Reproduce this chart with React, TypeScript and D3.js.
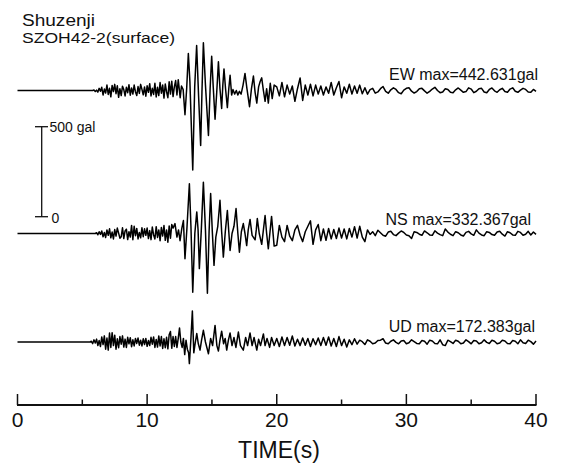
import React from "react";
import * as d3 from "d3";

// ---------- data (gal, seconds) ----------
const TIME_TICKS = [0, 10, 20, 30, 40];
const MINOR_TICKS = [5, 15, 25, 35];
const TITLE = "Shuzenji";
const SUBTITLE = "SZOH42-2(surface)";
const SCALE_GAL = 500;

// EW
const EW_ONSET = 5.8;
const EW_NOISE = [
  0, 3, -6, 2, -9, 12, -4, 18, -25, 8, -14, 30,
  -22, 12, -35, 28, -6, 34, -18, 26, -38, 10,
  -28, 24, 5, -30, 18, -12, 32, -26, 14, -20,
  30, -8, -28, 22, -16, 34, 6, -24, 20, -32,
  26, -10, 38, -30, 12, -22, 40, -36, 18, -28,
  44, -15, 30, -42, 36, -8, -40, 48, -20, 52,
  -34,
];
const EW_STRONG: [number, number][] = [
  [12.1, 20], [12.2, 55], [12.3, -25], [12.4, 60], [12.55, -40], [12.65, 25], [12.78, 5],
  [12.92, -135], [13.05, 10], [13.18, 205], [13.3, 50], [13.52, -442], [13.67, 20],
  [13.82, 250], [13.97, -30], [14.13, -305], [14.23, -10], [14.34, 265], [14.5, 30],
  [14.73, -250], [14.86, 10], [14.98, 190], [15.1, 20], [15.24, -160], [15.37, -10],
  [15.5, 160], [15.62, 10], [15.75, -100], [15.84, 30], [15.93, 120], [16.05, 10],
  [16.19, -95], [16.3, 10], [16.4, 85], [16.52, -25], [16.62, 5], [16.75, -20], [16.88, 0],
  [17.0, -25], [17.12, -5], [17.25, -20], [17.4, 30], [17.55, 95], [17.7, 10], [17.9, -90],
  [18.05, 10], [18.2, 80], [18.33, -10], [18.46, -70], [18.6, 20], [18.72, 50], [18.84, 70],
  [18.97, 0], [19.1, -60], [19.22, 10], [19.35, -70], [19.5, 40], [19.65, -45], [19.8, 30],
];
const EW_CODA = [
  20, -30, 45, -35, 30, -20, 25, -60, 10, 70,
  -55, 30, -25, 35, -30, 30, -20, 25, -25, 20,
  -15, 45, -25, 15, 50, -40, 20, -15, 35, -20,
  25, -15, 30, -18, 15, -20, 5, 12, -15, -8,
  10, 22, -5, -15, 4, 15, 6, -12, -18, 2,
  12, 15, -4, -14, -6, 10, 12, -2, -15, -5,
  8, 18, 0, -12, -8, 10, 6, -10, -12, 4,
  14, 2, -10, -6, 15, 8, -12, -4, 10, 12,
  -8, -12, 6, 14, -2, -10, 4, 12, -6, -10,
  8, 15, -4, -10, 2, 12, 6, -8, -10, 6,
  -5,
];

// NS
const NS_ONSET = 6.0;
const NS_NOISE = [
  0, 4, -7, 10, -5, 14, -18, 6, -22, 20,
  -10, 26, -24, 8, -30, 22, -14, 30, 2, -26,
  -18, 32, -28, 14, 24, -34, 10, -20, 45, -35,
  40, -12, 28, -30, 6, -24, 32, -18, 26, -10,
  30, -28, 16, -34, 36, -8, -30, 38, -22, 20,
  -40, 34, -14, 44, -38, 20, -48, 42, -26, 50,
  30,
];
const NS_STRONG: [number, number][] = [
  [12.15, 55], [12.3, -20], [12.42, 20], [12.54, -40], [12.68, 30], [12.8, 72], [12.92, -140],
  [13.08, 40], [13.26, 276], [13.38, 40], [13.52, -326], [13.68, 0], [13.83, 120], [13.93, 20],
  [14.03, -195], [14.18, 20], [14.34, 285], [14.5, 20], [14.65, -332], [14.78, 10], [14.9, 222],
  [15.03, 10], [15.16, -177], [15.3, -20], [15.45, 40], [15.62, 185], [15.75, 10], [15.88, -131],
  [16.03, 10], [16.19, 128], [16.3, 10], [16.4, -94], [16.55, 0], [16.7, 40], [16.86, 139],
  [17.0, 0], [17.12, -104], [17.27, 10], [17.42, 55], [17.55, 0], [17.68, -67], [17.8, 20],
  [17.94, 78], [18.1, -10], [18.33, -35], [18.42, 20], [18.5, 83], [18.65, 0], [18.84, -60],
  [18.97, 20], [19.1, 100], [19.22, 0], [19.35, -85], [19.48, 10], [19.6, 95], [19.8, -70],
];
const NS_CODA = [
  -65, 45, -20, -45, 45, -15, -40, 20, 45, -10,
  -45, 10, 40, 70, -60, 20, 50, -40, 25, -38,
  28, -30, 22, -28, 30, -25, 25, -30, 28, -20,
  38, -25, 40, -20, -45, 20, -5, 10, -12, 18,
  4, -10, -15, 8, 12, -6, -12, 2, 14, 6,
  -8, -12, -28, 10, 6, -4, -10, 14, 4, -8,
  -10, 15, 2, -6, -12, 25, 8, -4, -12, 10,
  4, -8, -14, 6, 12, -2, -10, 20, 2, -8,
  -12, 10, 6, -6, -10, 8, 12, -4, -14, 10,
  4, -8, -10, 12, 6, -10, -4, 12, -8, 8,
  -5,
];

// UD
const UD_ONSET = 5.6;
const UD_NOISE = [
  0, 4, -9, 12, -6, 16, -20, 8, -25, 28, -14, 34, -40, 22,
  -45, 50, -30, 52, -20, 38, -40, 18, -32, 30,
  -12, 34, -28, 16, -30, 26, -10, 24, -26, 12,
  -22, 20, -8, 22, -18, 10, -22, 18, -14, 20,
  -24, 8, -20, 26, -12, 28, -30, 14, -28, 34,
  -22, 30, -36, 18, -32, 26, -38, 40, 58, -35,
  30,
];
const UD_STRONG: [number, number][] = [
  [12.1, -25], [12.2, 30], [12.3, -30], [12.4, 20], [12.5, 78], [12.6, 0], [12.7, -30],
  [12.8, 20], [12.9, -70], [13.0, 10], [13.1, -40], [13.2, -60], [13.26, -120], [13.38, 20],
  [13.49, 172], [13.6, -60], [13.7, -10], [13.83, 47], [13.95, -10], [14.08, -45], [14.2, 10],
  [14.34, 65], [14.5, 0], [14.73, -65], [14.9, 20], [15.05, -20], [15.24, 92], [15.38, -20],
  [15.5, -50], [15.62, 10], [15.75, 60], [15.9, -10], [16.02, 20], [16.14, -45], [16.27, 10],
  [16.4, 50], [16.55, -20], [16.7, 25], [16.85, -30], [17.04, 55], [17.2, -20], [17.42, -45],
  [17.6, 25], [17.75, -20], [17.94, 50], [18.1, -20], [18.25, 25], [18.46, -45], [18.6, 15],
  [18.75, -20], [18.97, 45], [19.1, -20], [19.25, 20], [19.45, -30], [19.6, 25], [19.8, -20],
];
const UD_CODA = [
  20, -25, 28, -20, 25, -18, 33, -22, 15, -20,
  22, -18, 20, -25, 18, -15, 22, -20, 25, -18,
  28, -22, 20, -25, 30, -20, 15, -28, 12, -15,
  18, -12, 10, 2, -14, 12, 4, -10, -6, 8,
  10, 18, -6, -10, 4, 12, -2, -10, 6, 8,
  -10, -4, 12, 2, -8, -10, 8, 4, -12, 10,
  6, -8, -10, 12, -15, -20, 10, 2, -8, 10,
  4, -10, -6, 12, 2, -10, 8, 6, -10, -4,
  12, -2, -8, 10, 4, -10, -6, 10, 6, -8,
  -10, 8, 4, -10, 12, -4, -8, 10, 2, -12,
  5,
];

const NOISE_STEP = 0.1;
const CODA_START = 20;
const CODA_STEP = 0.2;

const TRACES = [
  { name: "EW", max: "442.631", onset: EW_ONSET, noise: EW_NOISE, strong: EW_STRONG, coda: EW_CODA },
  { name: "NS", max: "332.367", onset: NS_ONSET, noise: NS_NOISE, strong: NS_STRONG, coda: NS_CODA },
  { name: "UD", max: "172.383", onset: UD_ONSET, noise: UD_NOISE, strong: UD_STRONG, coda: UD_CODA },
];

function buildSeries(t: typeof TRACES[number]): [number, number][] {
  const pts: [number, number][] = [[0, 0]];
  t.noise.forEach((v, i) => pts.push([t.onset + i * NOISE_STEP, v]));
  t.strong.forEach((p) => pts.push(p));
  t.coda.forEach((v, i) => pts.push([CODA_START + i * CODA_STEP, v]));
  return pts;
}

// ---------- layout ----------
const W = 561;
const H = 464;
const X0 = 17.5;
const X1 = 536;
const AXIS_Y = 405;
const BASES = [90.5, 233.5, 342];
const HALF = 90; // px for 500 gal
const LABEL_X = [538, 531, 535];
const LABEL_Y = [80, 225, 331.5];
const FONT = "'Liberation Sans', Arial, Helvetica, sans-serif";

export default function App() {
  const x = d3.scaleLinear().domain([0, 40]).range([X0, X1]);

  return (
    <svg
      width={W}
      height={H}
      viewBox={`0 0 ${W} ${H}`}
      style={{ position: "absolute", left: 0, top: 0, background: "#fff" }}
      fontFamily={FONT}
    >
      <rect x={0} y={0} width={W} height={H} fill="#fff" />
      <text x={22} y={26} fontSize={16} textLength={73} lengthAdjust="spacingAndGlyphs" fill="#111">
        {TITLE}
      </text>
      <text x={22} y={43} fontSize={14.5} textLength={153} lengthAdjust="spacingAndGlyphs" fill="#111">
        {SUBTITLE}
      </text>

      {TRACES.map((tr, k) => {
        const y = d3.scaleLinear().domain([-SCALE_GAL, SCALE_GAL]).range([BASES[k] + HALF, BASES[k] - HALF]);
        const line = d3
          .line<[number, number]>()
          .x((d) => x(d[0]))
          .y((d) => y(d[1]))
          .curve(d3.curveLinear);
        return (
          <g key={tr.name}>
            <path d={line(buildSeries(tr)) || ""} fill="none" stroke="#000" strokeWidth={1.5} strokeLinejoin="round" />
            <text x={LABEL_X[k]} y={LABEL_Y[k]} fontSize={16} textAnchor="end" fill="#111">
              {`${tr.name} max=${tr.max}gal`}
            </text>
          </g>
        );
      })}

      {/* scale bar */}
      {(() => {
        const ys = d3.scaleLinear().domain([0, SCALE_GAL]).range([216.7, 216.7 - HALF]);
        return (
          <g stroke="#111" strokeWidth={1.3}>
            <line x1={41.7} x2={41.7} y1={ys(0)} y2={ys(SCALE_GAL)} />
            <line x1={35} x2={48} y1={ys(0)} y2={ys(0)} />
            <line x1={35} x2={48} y1={ys(SCALE_GAL)} y2={ys(SCALE_GAL)} />
            <text x={49.5} y={ys(SCALE_GAL) + 5.5} fontSize={14} stroke="none" fill="#111">
              {`${SCALE_GAL} gal`}
            </text>
            <text x={51.5} y={ys(0) + 6} fontSize={14} stroke="none" fill="#111">
              0
            </text>
          </g>
        );
      })()}

      {/* time axis */}
      <g stroke="#111">
        <line x1={X0 - 0.5} x2={X1 + 0.5} y1={AXIS_Y} y2={AXIS_Y} strokeWidth={2} />
        {TIME_TICKS.map((t) => (
          <line key={"M" + t} x1={x(t)} x2={x(t)} y1={AXIS_Y} y2={AXIS_Y - 11} strokeWidth={1.5} />
        ))}
        {MINOR_TICKS.map((t) => (
          <line key={"m" + t} x1={x(t)} x2={x(t)} y1={AXIS_Y} y2={AXIS_Y - 5.5} strokeWidth={1.5} />
        ))}
      </g>
      {TIME_TICKS.map((t) => (
        <text key={"l" + t} x={x(t)} y={427} fontSize={21} textAnchor="middle" fill="#111">
          {t}
        </text>
      ))}
      <text x={279} y={458} fontSize={23} textAnchor="middle" fill="#111">
        TIME(s)
      </text>
    </svg>
  );
}
